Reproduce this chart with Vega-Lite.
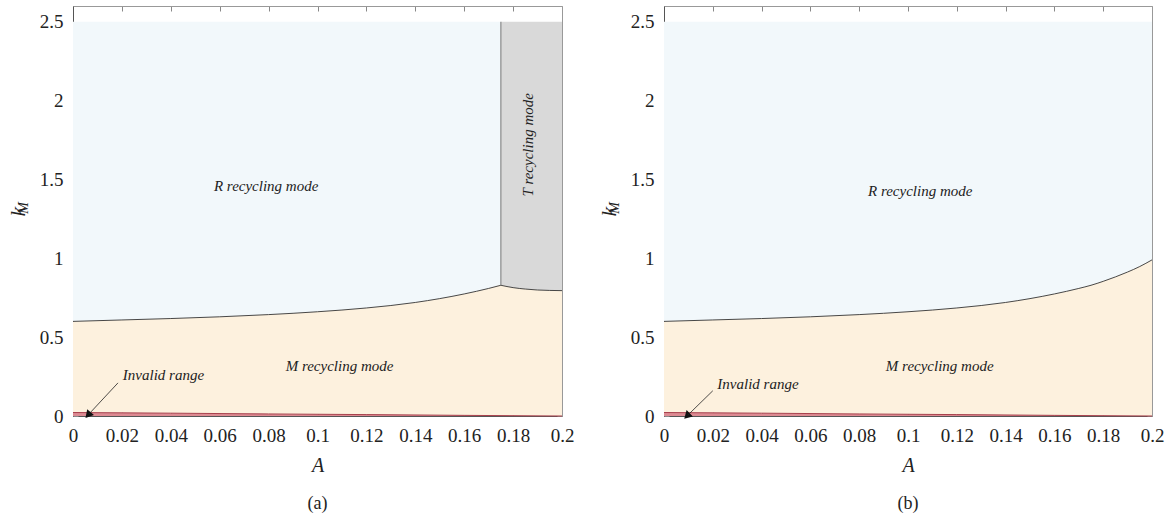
{
  "$schema": "https://vega.github.io/schema/vega-lite/v6.json",
  "padding": {"left": 6, "top": 5, "right": 2, "bottom": 1},
  "background": "white",
  "config": {
    "font": "Liberation Serif",
    "view": {"stroke": null},
    "axis": {"grid": false, "labelFont": "Liberation Serif", "labelFontSize": 19, "labelColor": "#222", "titleFont": "Liberation Serif", "titleFontWeight": "normal", "titleColor": "#222", "domainColor": "#555", "tickColor": "#888", "tickSize": -5, "labelPadding": 15, "labelFlush": false, "labelOverlap": false}
  },
  "datasets": {
    "regionsA": [
      {"region": "R", "A": 0, "lo": 0.600, "hi": 2.5},
      {"region": "R", "A": 0.02, "lo": 0.609, "hi": 2.5},
      {"region": "R", "A": 0.04, "lo": 0.618, "hi": 2.5},
      {"region": "R", "A": 0.06, "lo": 0.629, "hi": 2.5},
      {"region": "R", "A": 0.08, "lo": 0.643, "hi": 2.5},
      {"region": "R", "A": 0.10, "lo": 0.661, "hi": 2.5},
      {"region": "R", "A": 0.12, "lo": 0.685, "hi": 2.5},
      {"region": "R", "A": 0.14, "lo": 0.720, "hi": 2.5},
      {"region": "R", "A": 0.16, "lo": 0.774, "hi": 2.5},
      {"region": "R", "A": 0.17, "lo": 0.809, "hi": 2.5},
      {"region": "R", "A": 0.175, "lo": 0.829, "hi": 2.5},
      {"region": "T", "A": 0.175, "lo": 0.829, "hi": 2.5},
      {"region": "T", "A": 0.18, "lo": 0.814, "hi": 2.5},
      {"region": "T", "A": 0.185, "lo": 0.805, "hi": 2.5},
      {"region": "T", "A": 0.19, "lo": 0.799, "hi": 2.5},
      {"region": "T", "A": 0.20, "lo": 0.795, "hi": 2.5},
      {"region": "M", "A": 0, "lo": 0.022, "hi": 0.600},
      {"region": "M", "A": 0.02, "lo": 0.020, "hi": 0.609},
      {"region": "M", "A": 0.04, "lo": 0.018, "hi": 0.618},
      {"region": "M", "A": 0.06, "lo": 0.015, "hi": 0.629},
      {"region": "M", "A": 0.08, "lo": 0.013, "hi": 0.643},
      {"region": "M", "A": 0.10, "lo": 0.011, "hi": 0.661},
      {"region": "M", "A": 0.12, "lo": 0.009, "hi": 0.685},
      {"region": "M", "A": 0.14, "lo": 0.007, "hi": 0.720},
      {"region": "M", "A": 0.16, "lo": 0.004, "hi": 0.774},
      {"region": "M", "A": 0.17, "lo": 0.0035, "hi": 0.809},
      {"region": "M", "A": 0.175, "lo": 0.003, "hi": 0.829},
      {"region": "M", "A": 0.18, "lo": 0.002, "hi": 0.814},
      {"region": "M", "A": 0.185, "lo": 0.0015, "hi": 0.805},
      {"region": "M", "A": 0.19, "lo": 0.001, "hi": 0.799},
      {"region": "M", "A": 0.20, "lo": 0, "hi": 0.795},
      {"region": "I", "A": 0, "lo": 0, "hi": 0.022},
      {"region": "I", "A": 0.02, "lo": 0, "hi": 0.020},
      {"region": "I", "A": 0.04, "lo": 0, "hi": 0.018},
      {"region": "I", "A": 0.06, "lo": 0, "hi": 0.015},
      {"region": "I", "A": 0.08, "lo": 0, "hi": 0.013},
      {"region": "I", "A": 0.10, "lo": 0, "hi": 0.011},
      {"region": "I", "A": 0.12, "lo": 0, "hi": 0.009},
      {"region": "I", "A": 0.14, "lo": 0, "hi": 0.007},
      {"region": "I", "A": 0.16, "lo": 0, "hi": 0.004},
      {"region": "I", "A": 0.18, "lo": 0, "hi": 0.002},
      {"region": "I", "A": 0.20, "lo": 0, "hi": 0}
    ],
    "regionsB": [
      {"region": "R", "A": 0, "lo": 0.600, "hi": 2.5},
      {"region": "R", "A": 0.02, "lo": 0.609, "hi": 2.5},
      {"region": "R", "A": 0.04, "lo": 0.618, "hi": 2.5},
      {"region": "R", "A": 0.06, "lo": 0.629, "hi": 2.5},
      {"region": "R", "A": 0.08, "lo": 0.643, "hi": 2.5},
      {"region": "R", "A": 0.10, "lo": 0.661, "hi": 2.5},
      {"region": "R", "A": 0.12, "lo": 0.685, "hi": 2.5},
      {"region": "R", "A": 0.14, "lo": 0.720, "hi": 2.5},
      {"region": "R", "A": 0.16, "lo": 0.774, "hi": 2.5},
      {"region": "R", "A": 0.17, "lo": 0.809, "hi": 2.5},
      {"region": "R", "A": 0.175, "lo": 0.829, "hi": 2.5},
      {"region": "R", "A": 0.18, "lo": 0.854, "hi": 2.5},
      {"region": "R", "A": 0.185, "lo": 0.882, "hi": 2.5},
      {"region": "R", "A": 0.19, "lo": 0.913, "hi": 2.5},
      {"region": "R", "A": 0.195, "lo": 0.948, "hi": 2.5},
      {"region": "R", "A": 0.20, "lo": 0.990, "hi": 2.5},
      {"region": "M", "A": 0, "lo": 0.022, "hi": 0.600},
      {"region": "M", "A": 0.02, "lo": 0.020, "hi": 0.609},
      {"region": "M", "A": 0.04, "lo": 0.018, "hi": 0.618},
      {"region": "M", "A": 0.06, "lo": 0.015, "hi": 0.629},
      {"region": "M", "A": 0.08, "lo": 0.013, "hi": 0.643},
      {"region": "M", "A": 0.10, "lo": 0.011, "hi": 0.661},
      {"region": "M", "A": 0.12, "lo": 0.009, "hi": 0.685},
      {"region": "M", "A": 0.14, "lo": 0.007, "hi": 0.720},
      {"region": "M", "A": 0.16, "lo": 0.004, "hi": 0.774},
      {"region": "M", "A": 0.17, "lo": 0.0035, "hi": 0.809},
      {"region": "M", "A": 0.175, "lo": 0.003, "hi": 0.829},
      {"region": "M", "A": 0.18, "lo": 0.002, "hi": 0.854},
      {"region": "M", "A": 0.185, "lo": 0.0015, "hi": 0.882},
      {"region": "M", "A": 0.19, "lo": 0.001, "hi": 0.913},
      {"region": "M", "A": 0.195, "lo": 0.0005, "hi": 0.948},
      {"region": "M", "A": 0.20, "lo": 0, "hi": 0.990},
      {"region": "I", "A": 0, "lo": 0, "hi": 0.022},
      {"region": "I", "A": 0.02, "lo": 0, "hi": 0.020},
      {"region": "I", "A": 0.04, "lo": 0, "hi": 0.018},
      {"region": "I", "A": 0.06, "lo": 0, "hi": 0.015},
      {"region": "I", "A": 0.08, "lo": 0, "hi": 0.013},
      {"region": "I", "A": 0.10, "lo": 0, "hi": 0.011},
      {"region": "I", "A": 0.12, "lo": 0, "hi": 0.009},
      {"region": "I", "A": 0.14, "lo": 0, "hi": 0.007},
      {"region": "I", "A": 0.16, "lo": 0, "hi": 0.004},
      {"region": "I", "A": 0.18, "lo": 0, "hi": 0.002},
      {"region": "I", "A": 0.20, "lo": 0, "hi": 0}
    ],
    "linesA": [
      {"seg": "b1", "A": 0, "k": 0.600},
      {"seg": "b1", "A": 0.02, "k": 0.609},
      {"seg": "b1", "A": 0.04, "k": 0.618},
      {"seg": "b1", "A": 0.06, "k": 0.629},
      {"seg": "b1", "A": 0.08, "k": 0.643},
      {"seg": "b1", "A": 0.10, "k": 0.661},
      {"seg": "b1", "A": 0.12, "k": 0.685},
      {"seg": "b1", "A": 0.14, "k": 0.720},
      {"seg": "b1", "A": 0.16, "k": 0.774},
      {"seg": "b1", "A": 0.17, "k": 0.809},
      {"seg": "b1", "A": 0.175, "k": 0.829},
      {"seg": "b2", "A": 0.175, "k": 0.829},
      {"seg": "b2", "A": 0.18, "k": 0.814},
      {"seg": "b2", "A": 0.185, "k": 0.805},
      {"seg": "b2", "A": 0.19, "k": 0.799},
      {"seg": "b2", "A": 0.20, "k": 0.795},
      {"seg": "band", "A": 0, "k": 0.022},
      {"seg": "band", "A": 0.04, "k": 0.018},
      {"seg": "band", "A": 0.08, "k": 0.013},
      {"seg": "band", "A": 0.12, "k": 0.009},
      {"seg": "band", "A": 0.16, "k": 0.004},
      {"seg": "band", "A": 0.20, "k": 0}
    ],
    "linesB": [
      {"seg": "b1", "A": 0, "k": 0.600},
      {"seg": "b1", "A": 0.02, "k": 0.609},
      {"seg": "b1", "A": 0.04, "k": 0.618},
      {"seg": "b1", "A": 0.06, "k": 0.629},
      {"seg": "b1", "A": 0.08, "k": 0.643},
      {"seg": "b1", "A": 0.10, "k": 0.661},
      {"seg": "b1", "A": 0.12, "k": 0.685},
      {"seg": "b1", "A": 0.14, "k": 0.720},
      {"seg": "b1", "A": 0.16, "k": 0.774},
      {"seg": "b1", "A": 0.17, "k": 0.809},
      {"seg": "b1", "A": 0.175, "k": 0.829},
      {"seg": "b1", "A": 0.18, "k": 0.854},
      {"seg": "b1", "A": 0.185, "k": 0.882},
      {"seg": "b1", "A": 0.19, "k": 0.913},
      {"seg": "b1", "A": 0.195, "k": 0.948},
      {"seg": "b1", "A": 0.20, "k": 0.990},
      {"seg": "band", "A": 0, "k": 0.022},
      {"seg": "band", "A": 0.04, "k": 0.018},
      {"seg": "band", "A": 0.08, "k": 0.013},
      {"seg": "band", "A": 0.12, "k": 0.009},
      {"seg": "band", "A": 0.16, "k": 0.004},
      {"seg": "band", "A": 0.20, "k": 0}
    ],
    "vlineA": [{"A": 0.175, "k1": 0.829, "k2": 2.5}],
    "labelsA": [
      {"A": 0.079, "k": 1.46, "label": "R recycling mode"},
      {"A": 0.109, "k": 0.32, "label": "M recycling mode"},
      {"A": 0.037, "k": 0.26, "label": "Invalid range"}
    ],
    "labelsB": [
      {"A": 0.105, "k": 1.43, "label": "R recycling mode"},
      {"A": 0.113, "k": 0.32, "label": "M recycling mode"},
      {"A": 0.0385, "k": 0.20, "label": "Invalid range"}
    ],
    "tlabelA": [{"A": 0.186, "k": 1.72, "label": "T recycling mode"}],
    "arrowA": [{"A1": 0.0184, "k1": 0.21, "A2": 0.0065, "k2": 0.012}],
    "arrowB": [{"A1": 0.020, "k1": 0.16, "A2": 0.0098, "k2": 0.006}],
    "subM": [{"A": 0, "k": 1.32, "label": "M"}]
  },
  "spacing": 23,
  "hconcat": [
    {
      "width": 489,
      "height": 410,
      "title": {"text": "(a)", "orient": "bottom", "offset": 20, "fontSize": 18, "fontWeight": "normal", "font": "Liberation Serif", "color": "#222"},
      "resolve": {"axis": {"x": "independent", "y": "independent"}},
      "layer": [
        {
          "data": {"name": "regionsA"},
          "mark": {"type": "area", "opacity": 1, "interpolate": "monotone"},
          "encoding": {
            "x": {"field": "A", "type": "quantitative", "scale": {"domain": [0, 0.2]}, "axis": {"orient": "bottom", "values": [0, 0.02, 0.04, 0.06, 0.08, 0.1, 0.12, 0.14, 0.16, 0.18, 0.2], "format": "~g", "labelFont": "Liberation Serif", "labelFontSize": 19, "title": "A", "titleFontStyle": "italic", "titleFontSize": 20, "titlePadding": 10}},
            "y": {"field": "lo", "type": "quantitative", "stack": null, "scale": {"domain": [0, 2.5]}, "axis": {"orient": "left", "values": [0, 0.5, 1, 1.5, 2, 2.5], "format": "~g", "labelFont": "Liberation Serif", "labelFontSize": 19, "title": "k", "titleFontStyle": "italic", "titleFontSize": 22, "titlePadding": 10}},
            "y2": {"field": "hi"},
            "color": {"field": "region", "type": "nominal", "scale": {"domain": ["R", "T", "M", "I"], "range": ["#f2f8fb", "#d9d9d9", "#fdf1de", "#dc8a92"]}, "legend": null}
          }
        },
        {
          "data": {"name": "linesA"},
          "transform": [{"filter": "datum.seg != 'band'"}],
          "mark": {"type": "line", "color": "#333", "strokeWidth": 0.9, "interpolate": "monotone"},
          "encoding": {
            "x": {"field": "A", "type": "quantitative", "axis": null},
            "y": {"field": "k", "type": "quantitative", "axis": null},
            "detail": {"field": "seg"}
          }
        },
        {
          "data": {"name": "linesA"},
          "transform": [{"filter": "datum.seg == 'band'"}],
          "mark": {"type": "line", "color": "#a8404c", "strokeWidth": 1},
          "encoding": {
            "x": {"field": "A", "type": "quantitative", "axis": null},
            "y": {"field": "k", "type": "quantitative", "axis": null}
          }
        },
        {
          "data": {"name": "vlineA"},
          "mark": {"type": "rule", "color": "#777", "strokeWidth": 1},
          "encoding": {
            "x": {"field": "A", "type": "quantitative", "axis": null},
            "y": {"field": "k1", "type": "quantitative", "axis": null},
            "y2": {"field": "k2"}
          }
        },
        {
          "data": {"name": "labelsA"},
          "mark": {"type": "text", "font": "Liberation Serif", "fontStyle": "italic", "fontSize": 15, "color": "#222"},
          "encoding": {
            "x": {"field": "A", "type": "quantitative", "axis": null},
            "y": {"field": "k", "type": "quantitative", "axis": null},
            "text": {"field": "label"}
          }
        },
        {
          "data": {"name": "tlabelA"},
          "mark": {"type": "text", "font": "Liberation Serif", "fontStyle": "italic", "fontSize": 15, "color": "#222", "angle": 270},
          "encoding": {
            "x": {"field": "A", "type": "quantitative", "axis": null},
            "y": {"field": "k", "type": "quantitative", "axis": null},
            "text": {"field": "label"}
          }
        },
        {
          "data": {"name": "subM"},
          "mark": {"type": "text", "font": "Liberation Serif", "fontStyle": "italic", "fontSize": 14, "color": "#222", "angle": 270, "baseline": "alphabetic", "dy": -45},
          "encoding": {
            "x": {"field": "A", "type": "quantitative", "axis": null},
            "y": {"field": "k", "type": "quantitative", "axis": null},
            "text": {"field": "label"}
          }
        },
        {
          "data": {"name": "arrowA"},
          "mark": {"type": "point", "shape": "triangle", "filled": true, "color": "#111", "size": 80, "angle": 221, "opacity": 1},
          "encoding": {
            "x": {"field": "A2", "type": "quantitative", "axis": null},
            "y": {"field": "k2", "type": "quantitative", "axis": null}
          }
        },
        {
          "data": {"name": "arrowA"},
          "mark": {"type": "rule", "color": "#222", "strokeWidth": 0.8},
          "encoding": {
            "x": {"field": "A1", "type": "quantitative", "axis": {"orient": "top", "values": [0, 0.02, 0.04, 0.06, 0.08, 0.1, 0.12, 0.14, 0.16, 0.18, 0.2], "labels": false, "title": null, "domainColor": "#999"}},
            "y": {"field": "k1", "type": "quantitative", "axis": {"orient": "right", "values": [0, 0.5, 1, 1.5, 2, 2.5], "labels": false, "title": null, "domainColor": "#999"}},
            "x2": {"field": "A2"},
            "y2": {"field": "k2"}
          }
        }
      ]
    },
    {
      "width": 488,
      "height": 410,
      "title": {"text": "(b)", "orient": "bottom", "offset": 20, "fontSize": 18, "fontWeight": "normal", "font": "Liberation Serif", "color": "#222"},
      "resolve": {"axis": {"x": "independent", "y": "independent"}},
      "layer": [
        {
          "data": {"name": "regionsB"},
          "mark": {"type": "area", "opacity": 1, "interpolate": "monotone"},
          "encoding": {
            "x": {"field": "A", "type": "quantitative", "scale": {"domain": [0, 0.2]}, "axis": {"orient": "bottom", "values": [0, 0.02, 0.04, 0.06, 0.08, 0.1, 0.12, 0.14, 0.16, 0.18, 0.2], "format": "~g", "labelFont": "Liberation Serif", "labelFontSize": 19, "title": "A", "titleFontStyle": "italic", "titleFontSize": 20, "titlePadding": 10}},
            "y": {"field": "lo", "type": "quantitative", "stack": null, "scale": {"domain": [0, 2.5]}, "axis": {"orient": "left", "values": [0, 0.5, 1, 1.5, 2, 2.5], "format": "~g", "labelFont": "Liberation Serif", "labelFontSize": 19, "title": "k", "titleFontStyle": "italic", "titleFontSize": 22, "titlePadding": 10}},
            "y2": {"field": "hi"},
            "color": {"field": "region", "type": "nominal", "scale": {"domain": ["R", "T", "M", "I"], "range": ["#f2f8fb", "#d9d9d9", "#fdf1de", "#dc8a92"]}, "legend": null}
          }
        },
        {
          "data": {"name": "linesB"},
          "transform": [{"filter": "datum.seg != 'band'"}],
          "mark": {"type": "line", "color": "#333", "strokeWidth": 0.9, "interpolate": "monotone"},
          "encoding": {
            "x": {"field": "A", "type": "quantitative", "axis": null},
            "y": {"field": "k", "type": "quantitative", "axis": null}
          }
        },
        {
          "data": {"name": "linesB"},
          "transform": [{"filter": "datum.seg == 'band'"}],
          "mark": {"type": "line", "color": "#a8404c", "strokeWidth": 1},
          "encoding": {
            "x": {"field": "A", "type": "quantitative", "axis": null},
            "y": {"field": "k", "type": "quantitative", "axis": null}
          }
        },
        {
          "data": {"name": "labelsB"},
          "mark": {"type": "text", "font": "Liberation Serif", "fontStyle": "italic", "fontSize": 15, "color": "#222"},
          "encoding": {
            "x": {"field": "A", "type": "quantitative", "axis": null},
            "y": {"field": "k", "type": "quantitative", "axis": null},
            "text": {"field": "label"}
          }
        },
        {
          "data": {"name": "subM"},
          "mark": {"type": "text", "font": "Liberation Serif", "fontStyle": "italic", "fontSize": 14, "color": "#222", "angle": 270, "baseline": "alphabetic", "dy": -45},
          "encoding": {
            "x": {"field": "A", "type": "quantitative", "axis": null},
            "y": {"field": "k", "type": "quantitative", "axis": null},
            "text": {"field": "label"}
          }
        },
        {
          "data": {"name": "arrowB"},
          "mark": {"type": "point", "shape": "triangle", "filled": true, "color": "#111", "size": 80, "angle": 225, "opacity": 1},
          "encoding": {
            "x": {"field": "A2", "type": "quantitative", "axis": null},
            "y": {"field": "k2", "type": "quantitative", "axis": null}
          }
        },
        {
          "data": {"name": "arrowB"},
          "mark": {"type": "rule", "color": "#222", "strokeWidth": 0.8},
          "encoding": {
            "x": {"field": "A1", "type": "quantitative", "axis": {"orient": "top", "values": [0, 0.02, 0.04, 0.06, 0.08, 0.1, 0.12, 0.14, 0.16, 0.18, 0.2], "labels": false, "title": null, "domainColor": "#999"}},
            "y": {"field": "k1", "type": "quantitative", "axis": {"orient": "right", "values": [0, 0.5, 1, 1.5, 2, 2.5], "labels": false, "title": null, "domainColor": "#999"}},
            "x2": {"field": "A2"},
            "y2": {"field": "k2"}
          }
        }
      ]
    }
  ]
}
